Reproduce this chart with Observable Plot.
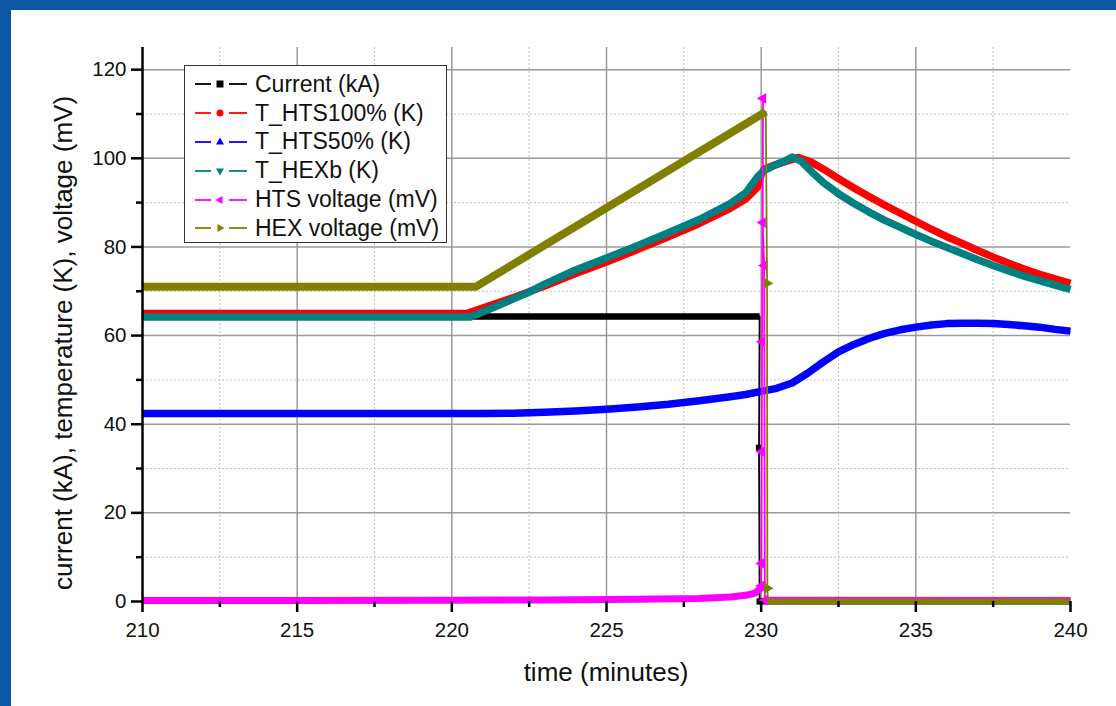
<!DOCTYPE html>
<html>
<head>
<meta charset="utf-8">
<script src="https://cdn.jsdelivr.net/npm/d3@7"></script>
<script src="https://cdn.jsdelivr.net/npm/@observablehq/plot@0.6"></script>
<style>
  html, body { margin: 0; padding: 0; width: 1116px; height: 706px; overflow: hidden; background: #0b57a4; }
  #panel { position: absolute; left: 11px; top: 10px; width: 1105px; height: 696px; background: #fff;
           font-family: "Liberation Sans", Arial, sans-serif; color: #111; }
  #legend { position: absolute; left: 173px; top: 55px; width: 263px; height: 178px; border: 1.5px solid #333;
            background: #fff; font-size: 23px; padding-top: 4px; box-sizing: border-box; }
  .row { display: flex; align-items: center; height: 28.8px; white-space: nowrap; }
  .row svg { display: block; flex: none; margin-left: 8px; margin-right: 6px; }
  .title { position: absolute; font-size: 26px; white-space: nowrap; line-height: 1; }
  #xtitle { left: 595px; top: 662px; transform: translate(-50%, -50%); }
  #ytitle { left: 52px; top: 333px; transform: translate(-50%, -50%) rotate(-90deg); }
</style>
</head>
<body>
<div id="panel"><div id="legend"></div><div id="xtitle" class="title"></div><div id="ytitle" class="title"></div></div>
<script>
// ---- data (time in minutes, value) ----
const seriesNames = ["Current (kA)", "T_HTS100% (K)", "T_HTS50% (K)", "T_HEXb (K)", "HTS voltage (mV)", "HEX voltage (mV)"];
const seriesColors = ["#000000", "#ff0000", "#0000ff", "#008080", "#ff00ff", "#808000"];
const seriesSymbols = ["square", "circle", "triangle", "triangle-down", "triangle-left", "triangle-right"];

const currentMain = [[210, 64.3], [229.95, 64.3]];
const currentDrop = [[229.95, 64.3], [229.93, 34.7], [229.95, 0]];
const currentTail = [[229.95, 0], [240, 0]];

const hts100 = [[210, 65.0], [220.5, 65.0], [221, 66.2], [222, 68.6], [223, 71.2], [224, 74.0], [225, 76.6], [226, 79.4],
  [227, 82.3], [228, 85.3], [229, 88.7], [229.5, 90.8], [229.88, 93.5], [230.0, 96.3], [230.1, 97.6], [230.4, 98.4],
  [230.8, 99.3], [231.2, 100.2], [231.6, 99.2], [232, 97.6], [232.5, 95.4], [233, 93.3], [233.5, 91.3], [234, 89.4],
  [234.5, 87.6], [235, 85.8], [235.5, 84.0], [236, 82.3], [236.5, 80.8], [237, 79.2], [237.5, 77.7], [238, 76.3],
  [238.5, 75.0], [239, 73.8], [239.5, 72.8], [240, 71.8]];

const hts50 = [[210, 42.4], [221, 42.4], [222, 42.5], [223, 42.7], [224, 43.0], [225, 43.4], [226, 43.9], [227, 44.5],
  [228, 45.3], [229, 46.2], [229.5, 46.7], [230, 47.4], [230.5, 48.1], [231, 49.3], [231.5, 51.5], [232, 54.0],
  [232.5, 56.3], [233, 58.0], [233.5, 59.4], [234, 60.5], [234.5, 61.3], [235, 61.9], [235.5, 62.4], [236, 62.7],
  [236.5, 62.8], [237, 62.8], [237.5, 62.7], [238, 62.5], [238.5, 62.2], [239, 61.9], [239.5, 61.4], [240, 61.0]];

const hexb = [[210, 64.2], [220.6, 64.2], [221.5, 66.8], [222.5, 69.8], [223, 71.6], [224, 74.8], [225, 77.5], [226, 80.3],
  [227, 83.2], [228, 86.2], [229, 89.8], [229.5, 92.2], [229.88, 95.8], [230.1, 97.3], [230.4, 98.3], [230.8, 99.5],
  [231.0, 100.3], [231.3, 99.3], [231.7, 96.5], [232, 94.6], [232.5, 92.0], [233, 89.8], [233.5, 87.8], [234, 86.0],
  [234.5, 84.4], [235, 82.8], [235.5, 81.3], [236, 79.9], [236.5, 78.5], [237, 77.1], [237.5, 75.8], [238, 74.6],
  [238.5, 73.4], [239, 72.4], [239.5, 71.4], [240, 70.4]];

const htsVoltMain = [[210, 0.2], [215, 0.25], [220, 0.3], [223, 0.35], [226, 0.5], [228, 0.7], [229, 1.0], [229.5, 1.4],
  [229.8, 1.9], [229.95, 2.8], [230.0, 3.5]];
const htsVoltSpike = [[230.0, 3.5], [230.01, 8.6], [230.02, 33.8], [230.03, 58.6], [230.06, 113.5], [230.05, 85.5],
  [230.1, 75.8], [230.12, 0.3]];
const htsVoltTail = [[230.12, 0.3], [240, 0.2]];

const hexVoltMain = [[210, 71.0], [220.77, 71.0], [230.15, 110.5]];
const hexVoltSpike = [[230.15, 110.5], [230.19, 71.8], [230.2, 3.0], [230.22, 0]];
const hexVoltTail = [[230.22, 0], [240, 0]];

// ---- axes ----
const xMajor = [210, 215, 220, 225, 230, 235, 240];
const xMinor = [212.5, 217.5, 222.5, 227.5, 232.5, 237.5];
const xGrid = [215, 220, 225, 230, 235];
const yMajor = [0, 20, 40, 60, 80, 100, 120];
const yMinor = [10, 30, 50, 70, 90, 110];
const yGrid = [20, 40, 60, 80, 100, 120];
const xTitle = "time (minutes)";
const yTitle = "current (kA), temperature (K), voltage (mV)";

const P = d => d[0], V = d => d[1];
const thick = (data, color, w = 7.5) => Plot.line(data, {x: P, y: V, stroke: color, strokeWidth: w, strokeLinejoin: "round", strokeLinecap: "butt"});
const thin = (data, color) => Plot.line(data, {x: P, y: V, stroke: color, strokeWidth: 1.8, strokeLinejoin: "round"});

const chart = Plot.plot({
  width: 1105, height: 696,
  marginLeft: 131, marginRight: 46, marginTop: 37, marginBottom: 105,
  x: {domain: [210, 240]},
  y: {domain: [0, 125]},
  style: {fontFamily: "'Liberation Sans', Arial, sans-serif", background: "transparent", color: "#111"},
  marks: [
    Plot.gridX(xMinor, {stroke: "#bdbdbd", strokeOpacity: 1, strokeWidth: 1, strokeDasharray: "2,2"}),
    Plot.gridY(yMinor, {stroke: "#bdbdbd", strokeOpacity: 1, strokeWidth: 1, strokeDasharray: "2,2"}),
    Plot.gridX(xGrid, {stroke: "#9a9a9a", strokeOpacity: 1, strokeWidth: 1.5}),
    Plot.gridY(yGrid, {stroke: "#9a9a9a", strokeOpacity: 1, strokeWidth: 1.5}),
    // Current
    thick(currentMain, seriesColors[0], 6.5), thin(currentDrop, seriesColors[0]), thick(currentTail, seriesColors[0], 6),
    Plot.dot(currentDrop.slice(1), {x: P, y: V, symbol: "square", r: 3.5, fill: seriesColors[0]}),
    // T_HTS100%
    thick(hts100, seriesColors[1]),
    // T_HTS50%
    thick(hts50, seriesColors[2]),
    // T_HEXb
    thick(hexb, seriesColors[3]),
    // HTS voltage
    thick(htsVoltMain, seriesColors[4], 7), thin(htsVoltSpike, seriesColors[4]), thick(htsVoltTail, seriesColors[4], 7),
    Plot.dot(htsVoltSpike, {x: P, y: V, symbol: "triangle", rotate: -90, r: 4, fill: seriesColors[4]}),
    // HEX voltage
    thick(hexVoltMain, seriesColors[5], 8), thin(hexVoltSpike, seriesColors[5]), thick(hexVoltTail, seriesColors[5], 6),
    Plot.dot(hexVoltSpike.slice(1, 3), {x: P, y: V, symbol: "triangle", rotate: 90, r: 4, fill: seriesColors[5]}),
    // axes
    Plot.ruleX([210], {stroke: "#000", strokeWidth: 2.5}),
    Plot.axisY(yMajor, {tickSize: 11, tickPadding: 5, strokeWidth: 2.5, stroke: "#000", fontSize: 20.5, label: null, tickFormat: d => String(d)}),
    Plot.axisY(yMinor, {tickSize: 6, strokeWidth: 2.5, stroke: "#000", text: null, label: null}),
    Plot.axisX(xMajor, {tickSize: 11, tickPadding: 10, strokeWidth: 2.5, stroke: "#000", fontSize: 20.5, label: null, tickFormat: d => String(d)}),
    Plot.axisX(xMinor, {tickSize: 6, strokeWidth: 2.5, stroke: "#000", text: null, label: null})
  ]
});
chart.style.position = "absolute";
chart.style.left = "0px";
chart.style.top = "0px";
const panel = document.getElementById("panel");
panel.insertBefore(chart, panel.firstChild);
document.getElementById("xtitle").textContent = xTitle;
document.getElementById("ytitle").textContent = yTitle;

// ---- legend ----
const legend = document.getElementById("legend");
const symPath = {
  "square": "M-3.5,-3.5h7v7h-7z",
  "circle": "M3.5,0A3.5,3.5 0 1,1 -3.5,0A3.5,3.5 0 1,1 3.5,0",
  "triangle": "M0,-4.5L4,2.5L-4,2.5Z",
  "triangle-down": "M0,4.5L4,-2.5L-4,-2.5Z",
  "triangle-left": "M-4.5,0L2.5,-4L2.5,4Z",
  "triangle-right": "M4.5,0L-2.5,-4L-2.5,4Z"
};
seriesNames.forEach((name, i) => {
  const row = document.createElement("div");
  row.className = "row";
  const c = seriesColors[i];
  row.innerHTML = `<svg width="56" height="20" viewBox="0 0 56 20">
    <line x1="2" y1="10" x2="18" y2="10" stroke="${c}" stroke-width="1.8"/>
    <line x1="36" y1="10" x2="54" y2="10" stroke="${c}" stroke-width="1.8"/>
    <path transform="translate(27,10)" d="${symPath[seriesSymbols[i]]}" fill="${c}"/>
  </svg><span>${name}</span>`;
  legend.appendChild(row);
});
</script>
</body>
</html>
